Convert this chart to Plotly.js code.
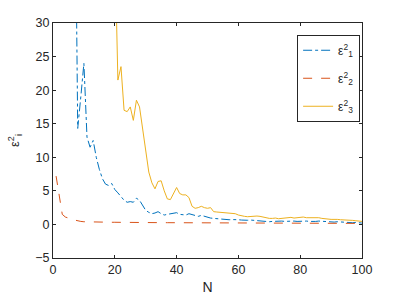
<!DOCTYPE html>
<html>
<head>
<meta charset="utf-8">
<script src="https://cdn.plot.ly/plotly-3.0.1.min.js"></script>
<style>
  html, body { margin: 0; padding: 0; background: #fff; }
  #chart { width: 400px; height: 300px; }
</style>
</head>
<body>
<div id="chart"></div>
<script>
/* error curves eps_i^2 against N = 1..100 (off-chart start values are estimates) */
var eps1 = [null, null, null, null, null, null, 60, 14.3, 19, 24,
  13, 11.5, 12.5, 10, 8.2, 6.8, 6, 5.8, 6.1, 5.2,
  4.7, 4.2, 3.6, 3.3, 3.4, 3.3, 3.9, 3.6, 2.8, 2.1,
  1.8, 1.6, 1.7, 1.9, 1.6, 1.4, 1.5, 1.6, 1.7, 1.75,
  1.5, 1.4, 1.4, 1.6, 1.5, 1.3, 1.2, 1.35, 1.2, 1.0,
  0.95, 0.9, 0.85, 0.8, 0.75, 0.72, 0.7, 0.72, 0.75, 0.7,
  0.65, 0.6, 0.62, 0.65, 0.6, 0.55, 0.5, 0.5, 0.45, 0.4,
  0.45, 0.5, 0.55, 0.5, 0.45, 0.5, 0.55, 0.5, 0.45, 0.5,
  0.55, 0.5, 0.45, 0.4, 0.45, 0.5, 0.45, 0.4, 0.45, 0.4,
  0.35, 0.4, 0.35, 0.3, 0.35, 0.3, 0.25, 0.3, 0.25, 0.2];

var eps2 = [7.2, 4.3, 1.5, 1.1, 0.9, 0.8, 0.65, 0.5, 0.45, 0.4,
  0.38, 0.37, 0.36, 0.35, 0.35, 0.34, 0.33, 0.33, 0.32, 0.32,
  0.31, 0.31, 0.3, 0.3, 0.3, 0.29, 0.29, 0.29, 0.28, 0.28,
  0.28, 0.27, 0.27, 0.27, 0.27, 0.26, 0.26, 0.26, 0.26, 0.25,
  0.25, 0.25, 0.25, 0.25, 0.24, 0.24, 0.24, 0.24, 0.24, 0.23,
  0.23, 0.23, 0.23, 0.23, 0.22, 0.22, 0.22, 0.22, 0.22, 0.21,
  0.21, 0.21, 0.21, 0.21, 0.2, 0.2, 0.2, 0.2, 0.2, 0.2,
  0.19, 0.19, 0.19, 0.19, 0.19, 0.18, 0.18, 0.18, 0.18, 0.18,
  0.17, 0.17, 0.17, 0.17, 0.17, 0.17, 0.16, 0.16, 0.16, 0.16,
  0.16, 0.16, 0.15, 0.15, 0.15, 0.15, 0.15, 0.15, 0.15, 0.15];

var eps3 = [null, null, null, null, null, null, null, null, null, null,
  null, null, null, null, null, null, null, null, null, 42,
  21.5, 23.5, 17, 16.8, 17.5, 15.5, 18.5, 17.5, 14, 10.5,
  7.8, 6.2, 5.3, 6.4, 6.5, 5, 3.8, 3.7, 4.5, 5.5,
  4.6, 4.4, 4.4, 4, 2.7, 2.4, 2.5, 2.7, 2.5, 2.4,
  2.5, 1.9, 1.85, 1.8, 1.8, 1.75, 1.7, 1.7, 1.6, 1.4,
  1.25, 1.2, 1.15, 1.2, 1.3, 1.25, 1.2, 1.1, 0.95, 0.9,
  0.9, 0.95, 0.85, 0.9, 1.0, 1.0, 1.05, 0.95, 1.0, 1.05,
  1.1, 1.0, 1.0, 1.05, 1.1, 1.0, 0.9, 0.8, 0.8, 0.75,
  0.8, 0.75, 0.7, 0.7, 0.65, 0.6, 0.6, 0.55, 0.5, 0.45];

var seriesNames = ['ε<sup>2</sup><sub>1</sub>', 'ε<sup>2</sup><sub>2</sub>', 'ε<sup>2</sup><sub>3</sub>'];
var xTicks = [0, 20, 40, 60, 80, 100];
var yTicks = [-5, 0, 5, 10, 15, 20, 25, 30];

var AXIS_COLOR = '#262626';
var FONT = 'Liberation Sans, Arial, sans-serif';

function line(y, name, color, dash, group) {
  return {
    y: y, x0: 1, dx: 1, name: name, legendgroup: group, type: 'scatter', mode: 'lines',
    line: { color: color, width: 1, dash: dash },
    connectgaps: false, hoverinfo: 'skip'
  };
}

var traces = [
  line(eps1, seriesNames[0], '#0072BD', 'dashdot', 'g1'),
  line(eps2, seriesNames[1], '#D95319', 'dash', 'g2'),
  line(eps3, seriesNames[2], '#EDB120', 'solid', 'g3')
];

var axisBase = {
  showgrid: false, zeroline: false, showline: true, mirror: 'ticks',
  linecolor: AXIS_COLOR, linewidth: 1,
  ticks: 'inside', ticklen: 3, tickwidth: 1, tickcolor: AXIS_COLOR,
  tickfont: { family: FONT, size: 12.5, color: AXIS_COLOR },
  fixedrange: true
};

var layout = {
  width: 400, height: 300,
  margin: { l: 53, r: 38, t: 23, b: 42 },
  paper_bgcolor: '#fff', plot_bgcolor: '#fff',
  font: { family: FONT, color: AXIS_COLOR },
  xaxis: Object.assign({}, axisBase, {
    range: [0, 100], tickvals: xTicks,
    title: { text: 'N', font: { family: FONT, size: 14, color: AXIS_COLOR }, standoff: 6 }
  }),
  yaxis: Object.assign({}, axisBase, {
    range: [-5, 30], tickvals: yTicks,
    title: { text: 'ε<sup>2</sup><sub>i</sub>', font: { family: FONT, size: 13, color: AXIS_COLOR }, standoff: 12 }
  }),
  showlegend: true,
  legend: {
    x: 0.79, y: 0.95, xanchor: 'left', yanchor: 'top',
    bgcolor: '#fff', bordercolor: AXIS_COLOR, borderwidth: 1,
    font: { family: FONT, size: 12, color: AXIS_COLOR },
    tracegroupgap: 9, itemwidth: 30
  }
};

Plotly.newPlot('chart', traces, layout, { displayModeBar: false, staticPlot: true });
</script>
</body>
</html>
